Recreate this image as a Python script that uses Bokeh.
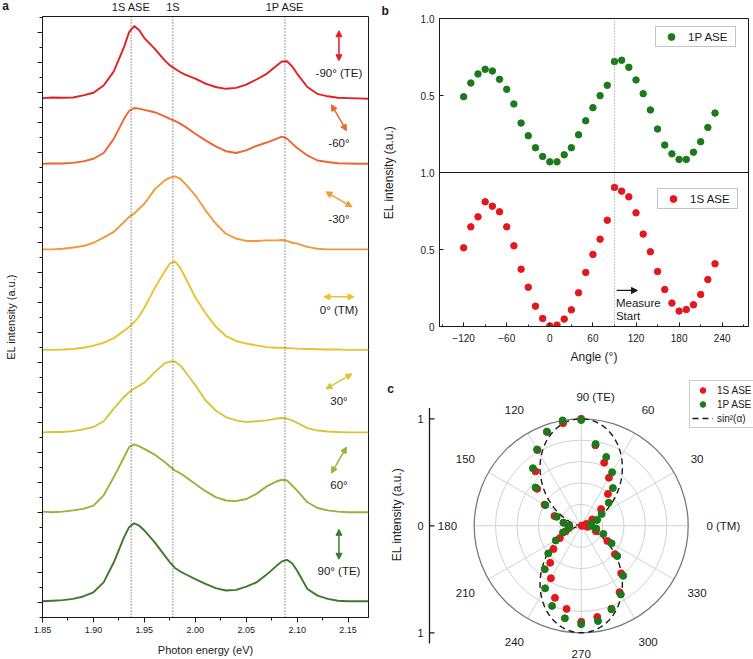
import numpy as np
from bokeh.plotting import figure
from bokeh.models import (Range1d, FixedTicker, Span, Arrow, NormalHead,
                          Legend, LegendItem, PrintfTickFormatter)
from bokeh.layouts import row, column
from bokeh.embed import file_html
from bokeh.resources import INLINE
from bokeh.core.properties import value

FONT = "Liberation Sans"
INK = "#1a1a1a"

# ---------------- panel a : EL spectra ----------------
energy = [1.85, 1.86, 1.87, 1.88, 1.89, 1.90, 1.91, 1.92, 1.93, 1.935, 1.94, 1.945, 1.95,
          1.96, 1.97, 1.975, 1.98, 1.985, 1.99, 2.00, 2.01, 2.02, 2.03, 2.04, 2.05, 2.06,
          2.07, 2.08, 2.085, 2.09, 2.095, 2.10, 2.11, 2.12, 2.13, 2.14, 2.15, 2.16, 2.17]
spec_m90 = [0.02, 0.04, 0.03, 0.04, 0.11, 0.20, 0.44, 0.91, 1.72, 2.22, 2.42, 2.28, 2.02,
            1.67, 1.28, 1.11, 1.00, 0.89, 0.80, 0.67, 0.50, 0.39, 0.33, 0.36, 0.47, 0.64,
            0.83, 1.11, 1.24, 1.25, 1.08, 0.83, 0.39, 0.16, 0.08, 0.03, 0.02, 0.01, 0.00]
spec_m60 = [0.00, 0.01, 0.01, 0.03, 0.08, 0.17, 0.36, 0.83, 1.50, 1.76, 1.86, 1.84, 1.80,
            1.72, 1.58, 1.50, 1.43, 1.34, 1.24, 1.00, 0.78, 0.58, 0.42, 0.36, 0.45, 0.60,
            0.71, 0.84, 0.91, 0.84, 0.68, 0.53, 0.28, 0.11, 0.06, 0.02, 0.01, 0.00, 0.00]
spec_m30 = [0.00, 0.00, 0.02, 0.06, 0.11, 0.22, 0.39, 0.58, 0.91, 1.08, 1.19, 1.36, 1.52,
            1.99, 2.30, 2.39, 2.43, 2.36, 2.19, 1.80, 1.30, 0.86, 0.52, 0.36, 0.28, 0.28,
            0.30, 0.30, 0.31, 0.28, 0.22, 0.19, 0.08, 0.02, 0.00, 0.00, 0.00, 0.00, 0.00]
spec_0 = [0.00, 0.00, 0.01, 0.03, 0.07, 0.14, 0.23, 0.39, 0.64, 0.76, 0.92, 1.12, 1.40,
          2.05, 2.62, 2.88, 2.95, 2.75, 2.42, 1.75, 1.22, 0.78, 0.46, 0.30, 0.21, 0.15,
          0.09, 0.07, 0.07, 0.06, 0.05, 0.04, 0.03, 0.02, 0.01, 0.01, 0.00, 0.00, 0.00]
spec_p30 = [0.00, 0.01, 0.01, 0.04, 0.10, 0.18, 0.37, 0.79, 1.18, 1.34, 1.46, 1.56, 1.66,
            2.00, 2.30, 2.36, 2.36, 2.24, 2.03, 1.57, 1.07, 0.73, 0.51, 0.40, 0.34, 0.37,
            0.40, 0.46, 0.48, 0.46, 0.40, 0.32, 0.14, 0.06, 0.03, 0.01, 0.00, 0.00, 0.00]
spec_p60 = [0.02, 0.00, 0.02, 0.06, 0.11, 0.22, 0.56, 1.17, 1.83, 2.17, 2.26, 2.19, 2.11,
            1.92, 1.67, 1.52, 1.39, 1.30, 1.19, 0.94, 0.70, 0.50, 0.39, 0.37, 0.44, 0.61,
            0.86, 1.03, 1.08, 1.06, 0.89, 0.72, 0.33, 0.14, 0.06, 0.02, 0.00, 0.00, 0.00]
spec_p90 = [0.00, 0.02, 0.04, 0.08, 0.16, 0.30, 0.63, 1.30, 2.13, 2.47, 2.60, 2.52, 2.36,
            1.97, 1.52, 1.30, 1.11, 1.00, 0.91, 0.74, 0.58, 0.44, 0.36, 0.38, 0.49, 0.63,
            0.89, 1.19, 1.33, 1.38, 1.27, 1.02, 0.41, 0.19, 0.08, 0.02, 0.00, 0.00, 0.00]
pol_angle = [-90, -60, -30, 0, 30, 60, 90]
pol_label = ["-90° (TE)", "-60°", "-30°", "0° (TM)", "30°", "60°", "90° (TE)"]
stack_offset = [17.29, 15.12, 12.27, 8.92, 6.17, 3.51, 0.54]
line_names = ["1S ASE", "1S", "1P ASE"]
line_energy = [1.937, 1.978, 2.088]

# ---------------- panel b / c : ASE intensity vs polariser angle ----------------
angle = [-120, -110, -100, -90, -80, -70, -60, -50, -40, -30, -20, -10, 0, 10, 20, 30,
         40, 50, 60, 70, 80, 90, 100, 110, 120, 130, 140, 150, 160, 170, 180, 190, 200,
         210, 220, 230]
ase_1p = [0.492, 0.581, 0.640, 0.670, 0.659, 0.605, 0.540, 0.445, 0.321, 0.239, 0.161,
          0.104, 0.069, 0.069, 0.115, 0.161, 0.245, 0.336, 0.421, 0.499, 0.566, 0.720,
          0.729, 0.683, 0.601, 0.512, 0.406, 0.282, 0.178, 0.121, 0.085, 0.085, 0.132,
          0.200, 0.293, 0.386]
ase_1s = [0.511, 0.647, 0.712, 0.810, 0.781, 0.745, 0.647, 0.524, 0.372, 0.255, 0.132,
          0.052, 0.004, 0.009, 0.048, 0.108, 0.219, 0.351, 0.468, 0.567, 0.690, 0.903,
          0.879, 0.842, 0.738, 0.600, 0.485, 0.357, 0.240, 0.152, 0.100, 0.110, 0.141,
          0.208, 0.305, 0.407]
polar_ticks = [-1, 0, 1]
polar_tick_labels = ["1", "0", "1"]

# layout-only constants (pixels)
label_lift_px = [26, 21, 30, 40, 31, 27, 30]

spectra = [spec_m90, spec_m60, spec_m30, spec_0, spec_p30, spec_p60, spec_p90]
colors = ["#E41F26", "#EE6530", "#F29A3A", "#EBC12E", "#D8C43A", "#9DB03B", "#3D7A2B"]
RED = "#E3181D"
GREEN = "#1B7A1B"
TXT = dict(text_font=value(FONT), text_color=INK, text_baseline="middle")


def style_axis(ax, fs="10px", lfs="11px"):
    ax.axis_line_color = INK
    ax.major_tick_line_color = INK
    ax.minor_tick_line_color = INK
    ax.major_label_text_font = FONT
    ax.major_label_text_font_size = fs
    ax.major_label_text_color = INK
    ax.axis_label_text_font = FONT
    ax.axis_label_text_font_style = "normal"
    ax.axis_label_text_font_size = lfs
    ax.axis_label_text_color = INK


def base_fig(**kw):
    f = figure(output_backend="svg", toolbar_location=None, frame_align=False, **kw)
    f.grid.visible = False
    f.outline_line_color = INK
    f.outline_line_width = 1
    f.background_fill_color = "white"
    f.border_fill_color = "white"
    return f


# ======================= panel a =======================
A_FW, A_FH = 326, 601
A_L, A_R, A_B, HDR_H = 42, 8, 42, 16
A_X0, A_X1, A_Y1 = 1.85, 2.17, 20.03
xpx = A_FW / (A_X1 - A_X0)
ypx = A_FH / A_Y1

# header strip above panel a (panel letter and peak names)
hdr = base_fig(frame_width=A_L + A_FW + A_R, frame_height=HDR_H, min_border=0,
               x_range=Range1d(A_X0 - A_L / xpx, A_X1 + A_R / xpx), y_range=Range1d(0, HDR_H),
               x_axis_location=None, y_axis_location=None)
hdr.outline_line_color = None
hdr.text(x=line_energy, y=[HDR_H - 6] * len(line_energy), text=line_names,
         text_font_size="11px", text_align="center", **TXT)
hdr.text(x=[A_X0 - 37 / xpx], y=[HDR_H - 5], text=["a"], text_font_size="12px",
         text_font_style="bold", text_align="center", **TXT)

pa = base_fig(frame_width=A_FW, frame_height=A_FH, min_border_left=A_L, min_border_right=A_R,
              min_border_top=0, min_border_bottom=A_B,
              x_range=Range1d(A_X0, A_X1), y_range=Range1d(0, A_Y1),
              x_axis_label="Photon energy (eV)", y_axis_label="EL intensity (a.u.)")

style_axis(pa.xaxis[0], fs="9px", lfs="11px")
pa.xaxis.ticker = FixedTicker(ticks=[round(1.85 + 0.05 * i, 2) for i in range(7)],
                              minor_ticks=[round(1.85 + 0.025 * i, 3) for i in range(13)])
pa.xaxis.formatter = PrintfTickFormatter(format="%.2f")
pa.xaxis.major_tick_out = 5
pa.xaxis.major_tick_in = 0
pa.xaxis.minor_tick_out = 3
pa.xaxis.minor_tick_in = 0
pa.xaxis.major_label_standoff = 4
pa.xaxis.axis_label_standoff = 8

style_axis(pa.yaxis[0], lfs="11px")
ymaj = [k + 0.5 for k in range(20)]
pa.yaxis.ticker = FixedTicker(ticks=ymaj, minor_ticks=list(range(21)))
pa.yaxis.major_label_overrides = {t: "" for t in ymaj}
pa.yaxis.major_tick_out = 5
pa.yaxis.major_tick_in = 0
pa.yaxis.minor_tick_out = 3
pa.yaxis.minor_tick_in = 0
pa.yaxis.major_label_standoff = 0
pa.yaxis.axis_label_standoff = 21

for e in line_energy:
    pa.add_layout(Span(location=e, dimension="height", line_color="#3a3a3a",
                       line_dash="1 2", line_width=1))

for spec, off, col in zip(spectra, stack_offset, colors):
    pa.line(energy, np.array(spec) + off, line_color=col, line_width=1.9)

lab_x = 2.141
lab_y = [o + lift / ypx for o, lift in zip(stack_offset, label_lift_px)]
pa.text(x=[lab_x] * len(pol_label), y=lab_y, text=pol_label, text_font_size="11.5px",
        text_align="center", **TXT)
for ang, ly, col in zip(pol_angle, lab_y, colors):
    th = np.radians(ang)
    cy = ly + (13 + 14 * abs(np.sin(th))) / ypx
    dx = 15 * np.cos(th) / xpx
    dy = 15 * np.sin(th) / ypx
    pa.add_layout(Arrow(x_start=lab_x - dx, y_start=cy - dy, x_end=lab_x + dx, y_end=cy + dy,
                        line_color=col, line_width=1.5,
                        start=NormalHead(size=6, fill_color=col, line_color=col),
                        end=NormalHead(size=6, fill_color=col, line_color=col)))

# ======================= panel b =======================
B_FW, B_FH = 309, 308
B_X0, B_X1 = -153.6, 276.6
pb = base_fig(frame_width=B_FW, frame_height=B_FH, min_border_left=63, min_border_right=5,
              min_border_top=17, min_border_bottom=45,
              x_range=Range1d(B_X0, B_X1), y_range=Range1d(0, 2),
              x_axis_label="Angle (°)", y_axis_label="EL intensity (a.u.)", title="b")
pb.title.align = "left"
pb.title.offset = -58
pb.title.standoff = 2
pb.title.text_font = FONT
pb.title.text_font_size = "12px"
pb.title.text_font_style = "bold"
pb.title.text_color = INK

style_axis(pb.xaxis[0], fs="10px", lfs="12px")
style_axis(pb.yaxis[0], fs="10px", lfs="12px")
pb.xaxis.ticker = FixedTicker(ticks=[-120, -60, 0, 60, 120, 180, 240],
                              minor_ticks=[-150, -90, -30, 30, 90, 150, 210, 270])
pb.yaxis.ticker = FixedTicker(ticks=[0, 0.5, 1, 1.5, 2])
pb.yaxis.major_label_overrides = {0: "0", 0.5: "0.5", 1: "1.0", 1.5: "0.5", 2: "1.0"}
for ax in (pb.xaxis, pb.yaxis):
    ax.major_tick_in = 4
    ax.major_tick_out = 0
    ax.minor_tick_in = 2
    ax.minor_tick_out = 0
    ax.major_label_standoff = 5
pb.xaxis.major_label_standoff = 7
pb.xaxis.axis_label_standoff = 5
pb.yaxis.minor_tick_line_color = None
pb.yaxis.axis_label_standoff = 22

pb.add_layout(Span(location=90, dimension="height", line_color="#8a8a8a",
                   line_dash="1 2", line_width=1))
pb.add_layout(Span(location=1, dimension="width", line_color=INK, line_width=1))

r1p = pb.scatter(angle, np.array(ase_1p) + 1, size=6.5, fill_color=GREEN, line_color=GREEN)
r1s = pb.scatter(angle, ase_1s, size=6.5, fill_color=RED, line_color=RED)


def b_legend(label, rend, loc):
    return Legend(items=[LegendItem(label=label, renderers=[rend])], location=loc,
                  padding=1, margin=0, spacing=0, glyph_width=28, glyph_height=17,
                  label_height=17, label_width=46, label_standoff=3,
                  label_text_font=FONT, label_text_font_size="11.5px", label_text_color=INK,
                  border_line_color="#8a8a8a", border_line_width=1,
                  background_fill_color="white", background_fill_alpha=1)


pb.add_layout(b_legend("1P ASE", r1p, (216, 279)))
pb.add_layout(b_legend("1S ASE", r1s, (218, 117)))

pb.add_layout(Arrow(x_start=93, y_start=0.234, x_end=122, y_end=0.234, line_color=INK,
                    line_width=1.3, start=None,
                    end=NormalHead(size=6, fill_color=INK, line_color=INK)))
pb.text(x=[92, 92], y=[0.15, 0.065], text=["Measure", "Start"], text_font_size="11.5px",
        text_align="left", **TXT)

# ======================= panel c (polar) =======================
S = 107.0
C_W, C_H = 377, 289
CX, CY = 204.7, 134.7           # polar centre, px from the canvas left / bottom
pc = base_fig(frame_width=C_W, frame_height=C_H, min_border=0,
              x_range=Range1d(-CX / S, (C_W - CX) / S),
              y_range=Range1d(-CY / S, (C_H - CY) / S),
              x_axis_location=None, y_axis_location=None)
pc.outline_line_color = None

# radial intensity scale on the left
axx = -151.7 / S
pc.segment(x0=[axx], y0=[-1.10], x1=[axx], y1=[1.10], line_color=INK, line_width=1.3)
pc.segment(x0=[axx] * 3, y0=polar_ticks, x1=[axx + 5 / S] * 3, y1=polar_ticks,
           line_color=INK, line_width=1.2)
pc.text(x=[axx - 6 / S] * 3, y=polar_ticks, text=polar_tick_labels, text_font_size="11px",
        text_align="right", **TXT)
pc.text(x=[-184.7 / S], y=[0.106], text=["EL intensity (a.u.)"], angle=np.pi / 2,
        text_font_size="12px", text_align="center", **TXT)
pc.text(x=[-190.7 / S], y=[1.274], text=["c"], text_font_size="12px",
        text_font_style="bold", text_align="center", **TXT)

ring_r = [0.2, 0.4, 0.6, 0.8]
pc.circle(x=[0] * len(ring_r), y=[0] * len(ring_r), radius=ring_r, fill_color=None,
          line_color="#d2d2d2", line_width=1)
spoke = np.radians(np.arange(0, 360, 30))
pc.segment(x0=[0] * len(spoke), y0=[0] * len(spoke), x1=np.cos(spoke), y1=np.sin(spoke),
           line_color="#d2d2d2", line_width=1)
pc.circle(x=[0], y=[0], radius=[1.0], fill_color=None, line_color="#7a7a7a", line_width=1.3)

alpha = np.radians(np.arange(0, 361, 2))
r_fit = np.sin(alpha) ** 2
r_dash = pc.line(r_fit * np.cos(alpha), r_fit * np.sin(alpha), line_color=INK,
                 line_width=1.4, line_dash="6 4")

th = np.radians(angle)
rs = np.array(ase_1s) / max(ase_1s)
rp = np.array(ase_1p) / max(ase_1p)
c1s = pc.scatter(rs * np.cos(th), rs * np.sin(th), size=7, fill_color=RED, line_color=RED)
c1p = pc.scatter(rp * np.cos(th), rp * np.sin(th), size=7, fill_color=GREEN, line_color=GREEN)

pc.add_layout(Legend(items=[LegendItem(label="1S ASE", renderers=[c1s]),
                            LegendItem(label="1P ASE", renderers=[c1p]),
                            LegendItem(label="sin²(α)", renderers=[r_dash])],
                     location=(313, 232), padding=2, margin=0, spacing=0, glyph_width=21,
                     glyph_height=14, label_height=14, label_standoff=4,
                     label_text_font=FONT, label_text_font_size="10px", label_text_color=INK,
                     border_line_color="#9a9a9a", border_line_width=1,
                     background_fill_color="white", background_fill_alpha=1))

lx, ly, lt, la = [], [], [], []
for a in range(0, 360, 30):
    t = np.radians(a)
    if a == 0:
        lx.append(1.17); ly.append(0.0); lt.append("0 (TM)"); la.append("left")
    elif a == 90:
        lx.append(-0.045); ly.append(1.2); lt.append("90 (TE)"); la.append("left")
    elif a == 270:
        lx.append(0.0); ly.append(-1.2); lt.append("270"); la.append("center")
    else:
        lx.append(1.25 * np.cos(t)); ly.append(1.25 * np.sin(t)); lt.append(str(a))
        la.append("center")
for align in ("left", "center"):
    idx = [i for i, v in enumerate(la) if v == align]
    pc.text(x=[lx[i] for i in idx], y=[ly[i] for i in idx], text=[lt[i] for i in idx],
            text_font_size="11.5px", text_align=align, **TXT)

layout = row(column(hdr, pa), column(pb, pc))
open("out.html", "w").write(file_html(layout, INLINE))
